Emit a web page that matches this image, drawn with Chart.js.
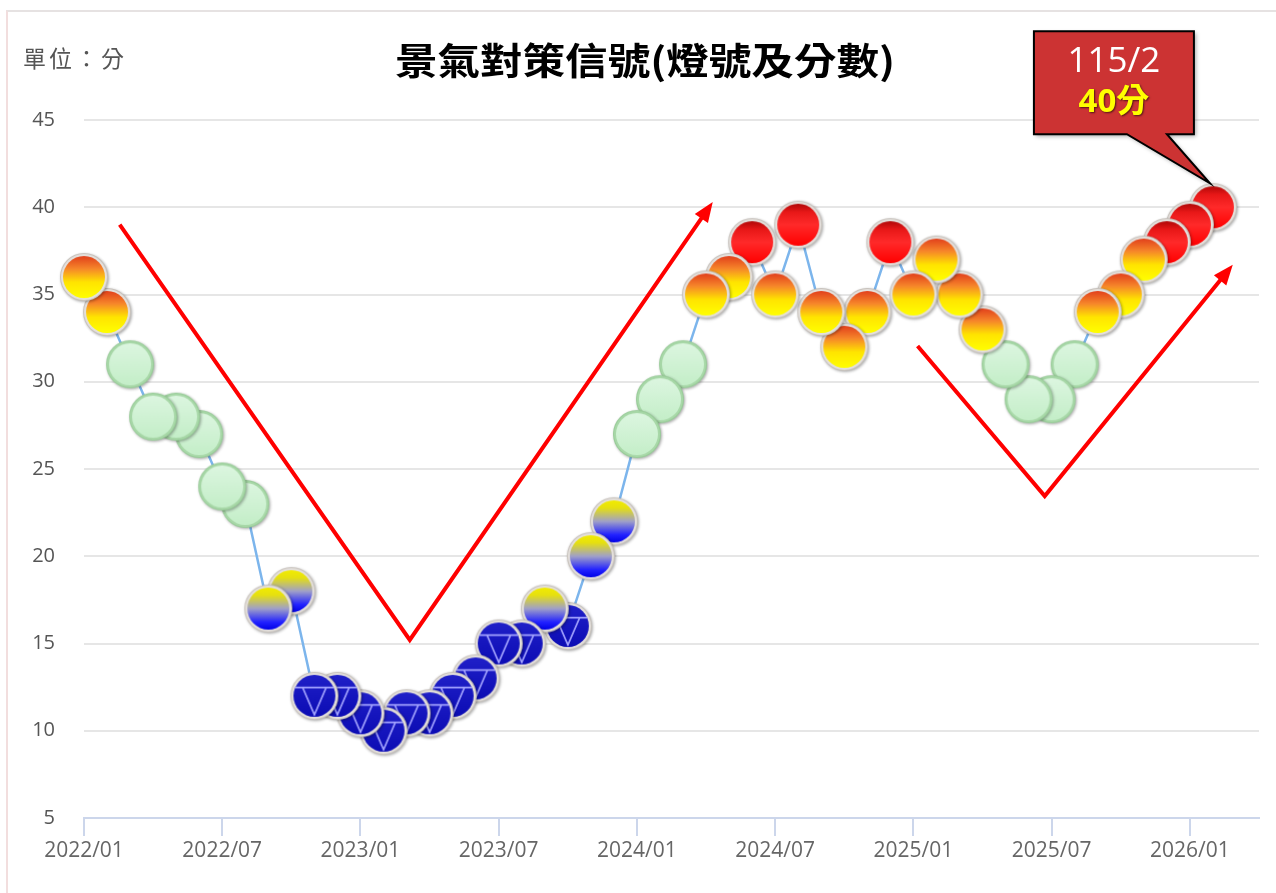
<!DOCTYPE html>
<html>
<head>
<meta charset="utf-8">
<script src="https://cdn.jsdelivr.net/npm/chart.js@4/dist/chart.umd.min.js"></script>
<style>
  body { margin: 0; background: #fff; }
  #wrap { position: relative; width: 1276px; height: 893px; overflow: hidden; }
  #frame { position: absolute; left: 6px; top: 10px; width: 1300px; height: 900px;
           border-left: 2px solid #f2dede; border-top: 2px solid #e6e2e2; }
  #title { position: absolute; left: 645px; top: 41px; white-space: nowrap;
           font: 700 37px "Noto Sans CJK TC", "Noto Sans CJK SC", sans-serif; line-height: 37px;
           color: #000; transform: translateX(-50%) scaleX(1.15); }
  #unit { position: absolute; left: 23px; top: 46px; white-space: nowrap;
          font: 23px "Noto Sans CJK TC", sans-serif; line-height: 23px; color: #555; letter-spacing: 3px; }
  canvas { position: absolute; left: 0; top: 0; }
</style>
</head>
<body>
<div id="wrap">
  <div id="frame"></div>
  <canvas id="signalChart" width="1276" height="893"></canvas>
  <div id="title">景氣對策信號(燈號及分數)</div>
  <div id="unit">單位：分</div>
</div>
<script>
// 月份 (2022/01 ~ 2026/02)
const months = [
  '2022/01','2022/02','2022/03','2022/04','2022/05','2022/06','2022/07','2022/08','2022/09','2022/10','2022/11','2022/12',
  '2023/01','2023/02','2023/03','2023/04','2023/05','2023/06','2023/07','2023/08','2023/09','2023/10','2023/11','2023/12',
  '2024/01','2024/02','2024/03','2024/04','2024/05','2024/06','2024/07','2024/08','2024/09','2024/10','2024/11','2024/12',
  '2025/01','2025/02','2025/03','2025/04','2025/05','2025/06','2025/07','2025/08','2025/09','2025/10','2025/11','2025/12',
  '2026/01','2026/02'
];
// 綜合判斷分數
const scores = [
  36, 34, 31, 28, 28, 27, 24, 23, 17, 18, 12, 12,
  11, 10, 11, 11, 12, 13, 15, 15, 17, 16, 20, 22,
  27, 29, 31, 35, 36, 38, 35, 39, 34, 32, 34, 38,
  35, 37, 35, 33, 31, 29, 29, 31, 34, 35, 37, 38,
  39, 40
];
const xTickLabels = ['2022/01','2022/07','2023/01','2023/07','2024/01','2024/07','2025/01','2025/07','2026/01'];
const yTicks = [5, 10, 15, 20, 25, 30, 35, 40, 45];
// 燈號分界 (分數下限)
const lampBands = [
  { min: 38, kind: 'red' },
  { min: 32, kind: 'yellowRed' },
  { min: 23, kind: 'green' },
  { min: 17, kind: 'yellowBlue' },
  { min: 0,  kind: 'blue' }
];
// 趨勢箭頭 (月份索引, 分數)
const trendV1 = [[1.55, 39.0], [14.14, 15.2], [27.29, 40.3]];
const trendV2 = [[36.18, 32.05], [41.7, 23.45], [49.86, 36.7]];
const calloutText = ['115/2', '40分'];

function lampKind(v) {
    return lampBands.find(b => v >= b.min).kind;
}

function makeLamp(kind) {
    const c = document.createElement('canvas');
    c.width = c.height = 56;
    const g = c.getContext('2d');
    const cx = 28, cy = 28, r = 24;

    g.save();
    g.shadowColor = 'rgba(0,0,0,0.35)';
    g.shadowBlur = 3;
    g.shadowOffsetX = 1;
    g.shadowOffsetY = 1;
    g.beginPath();
    g.arc(cx, cy, r, 0, Math.PI * 2);
    g.fillStyle = kind === 'green' ? '#98cc98' : '#c8c2bc';
    g.fill();
    g.restore();

    g.beginPath();
    g.arc(cx, cy, r - 1, 0, Math.PI * 2);
    g.fillStyle = kind === 'green' ? '#a8d8a8' : '#e4e0dc';
    g.fill();

    const stops = {
        red:        [[0, '#b00808'], [0.2, '#e81818'], [0.5, '#ff2a2a'], [1, '#ff0000']],
        yellowRed:  [[0, '#e2401c'], [0.3, '#f6862a'], [0.62, '#ffe400'], [1, '#ffff00']],
        green:      [[0, '#dcf6e0'], [1, '#c4eec8']],
        yellowBlue: [[0, '#f2ec00'], [0.18, '#e6e010'], [0.5, '#a0a0c8'], [0.82, '#2222ff'], [1, '#0000e8']],
        blue:       [[0, '#2020c8'], [1, '#0c0cb4']]
    }[kind];
    const ri = r - 3;
    const grad = g.createLinearGradient(0, cy - ri, 0, cy + ri);
    stops.forEach(s => grad.addColorStop(s[0], s[1]));
    g.beginPath();
    g.arc(cx, cy, ri, 0, Math.PI * 2);
    g.fillStyle = grad;
    g.fill();

    if (kind === 'blue') {
        const yTop = cy - 0.4 * ri;
        const half = Math.sqrt(1 - 0.16) * ri;
        g.strokeStyle = '#a4a4ff';
        g.lineWidth = 1.6;
        g.beginPath();
        g.moveTo(cx - half, yTop);
        g.lineTo(cx + half, yTop);
        g.moveTo(cx - 0.56 * ri, yTop);
        g.lineTo(cx, cy + 0.9 * ri);
        g.lineTo(cx + 0.56 * ri, yTop);
        g.stroke();
    }
    return c;
}

const lampImages = {};
lampBands.forEach(b => { lampImages[b.kind] = makeLamp(b.kind); });

// 早期月份的燈號壓在後面月份之上，所以倒序繪製
const points = scores.map((v, i) => ({ x: i, y: v })).reverse();

function drawArrowPath(ctx, xs, ys, pts) {
    const px = pts.map(p => [xs.getPixelForValue(p[0]), ys.getPixelForValue(p[1])]);
    ctx.save();
    ctx.strokeStyle = '#ff0000';
    ctx.fillStyle = '#ff0000';
    ctx.lineWidth = 4;
    ctx.lineJoin = 'miter';
    const last = px[px.length - 1], prev = px[px.length - 2];
    const ang = Math.atan2(last[1] - prev[1], last[0] - prev[0]);
    const headLen = 20, headW = 8;
    ctx.beginPath();
    ctx.moveTo(px[0][0], px[0][1]);
    for (let i = 1; i < px.length - 1; i++) ctx.lineTo(px[i][0], px[i][1]);
    ctx.lineTo(last[0] - Math.cos(ang) * headLen * 0.8, last[1] - Math.sin(ang) * headLen * 0.8);
    ctx.stroke();
    ctx.beginPath();
    ctx.moveTo(last[0], last[1]);
    ctx.lineTo(last[0] - Math.cos(ang) * headLen - Math.sin(ang) * headW, last[1] - Math.sin(ang) * headLen + Math.cos(ang) * headW);
    ctx.lineTo(last[0] - Math.cos(ang) * headLen + Math.sin(ang) * headW, last[1] - Math.sin(ang) * headLen - Math.cos(ang) * headW);
    ctx.closePath();
    ctx.fill();
    ctx.restore();
}

const overlayPlugin = {
    id: 'overlay',
    afterDatasetsDraw(chart) {
        const ctx = chart.ctx;
        const xs = chart.scales.x, ys = chart.scales.y;
        drawArrowPath(ctx, xs, ys, trendV1);
        drawArrowPath(ctx, xs, ys, trendV2);

        // 最新月份標註框
        const li = scores.length - 1;
        const px = xs.getPixelForValue(li), py = ys.getPixelForValue(scores[li]);
        const L = px - 179, R = px - 19, T = py - 176, B = py - 73;
        ctx.save();
        ctx.shadowColor = 'rgba(0,0,0,0.35)';
        ctx.shadowBlur = 4;
        ctx.shadowOffsetX = 2;
        ctx.shadowOffsetY = 2;
        ctx.beginPath();
        ctx.moveTo(L, T);
        ctx.lineTo(R, T);
        ctx.lineTo(R, B);
        ctx.lineTo(px - 46, B);
        ctx.lineTo(px - 3, py - 24);
        ctx.lineTo(px - 86, B);
        ctx.lineTo(L, B);
        ctx.closePath();
        ctx.fillStyle = '#cc3333';
        ctx.fill();
        ctx.restore();
        ctx.save();
        ctx.lineWidth = 2;
        ctx.strokeStyle = '#000';
        ctx.lineJoin = 'miter';
        ctx.stroke();
        ctx.textAlign = 'center';
        ctx.textBaseline = 'middle';
        ctx.fillStyle = '#ffffff';
        ctx.font = '35px "Open Sans", sans-serif';
        ctx.fillText(calloutText[0], (L + R) / 2, T + 31);
        ctx.shadowColor = 'rgba(0,0,0,0.6)';
        ctx.shadowBlur = 2;
        ctx.shadowOffsetX = 1;
        ctx.shadowOffsetY = 1;
        ctx.fillStyle = '#ffff00';
        ctx.font = '700 33px "Open Sans", "Noto Sans CJK TC", sans-serif';
        ctx.fillText(calloutText[1], (L + R) / 2, T + 71);
        ctx.restore();
    }
};

new Chart(document.getElementById('signalChart').getContext('2d'), {
    type: 'line',
    data: {
        datasets: [{
            label: '景氣對策信號',
            data: points,
            borderColor: '#7cb5ec',
            borderWidth: 2.5,
            tension: 0,
            clip: false,
            pointStyle: ctx => lampImages[lampKind(ctx.raw.y)],
            pointRadius: 24,
            pointHoverRadius: 24
        }]
    },
    options: {
        responsive: false,
        animation: false,
        events: [],
        layout: { autoPadding: false, padding: { top: 120, right: 17, left: 0, bottom: 0 } },
        plugins: { legend: { display: false }, tooltip: { enabled: false }, title: { display: false } },
        scales: {
            x: {
                type: 'linear',
                min: 0,
                max: 51,
                afterBuildTicks: s => { s.ticks = xTickLabels.map(t => ({ value: months.indexOf(t) })); },
                afterFit: s => { s.height = 75; },
                grid: { drawOnChartArea: false, drawTicks: true, tickLength: 18, color: '#ccd6eb', lineWidth: 2 },
                border: { display: true, color: '#ccd6eb', width: 2 },
                ticks: {
                    color: '#666666',
                    font: { family: '"Open Sans", sans-serif', size: 21 },
                    padding: 2,
                    maxRotation: 0,
                    autoSkip: false,
                    callback: v => months[v] || ''
                }
            },
            y: {
                min: 5,
                max: 45,
                afterBuildTicks: s => { s.ticks = yTicks.map(v => ({ value: v })); },
                afterFit: s => { s.width = 84; },
                grid: { color: '#e6e6e6', lineWidth: 2, drawTicks: false },
                border: { display: false },
                ticks: {
                    color: '#555555',
                    font: { family: '"Open Sans", sans-serif', size: 20 },
                    padding: 29
                }
            }
        }
    },
    plugins: [overlayPlugin]
});
</script>
</body>
</html>
